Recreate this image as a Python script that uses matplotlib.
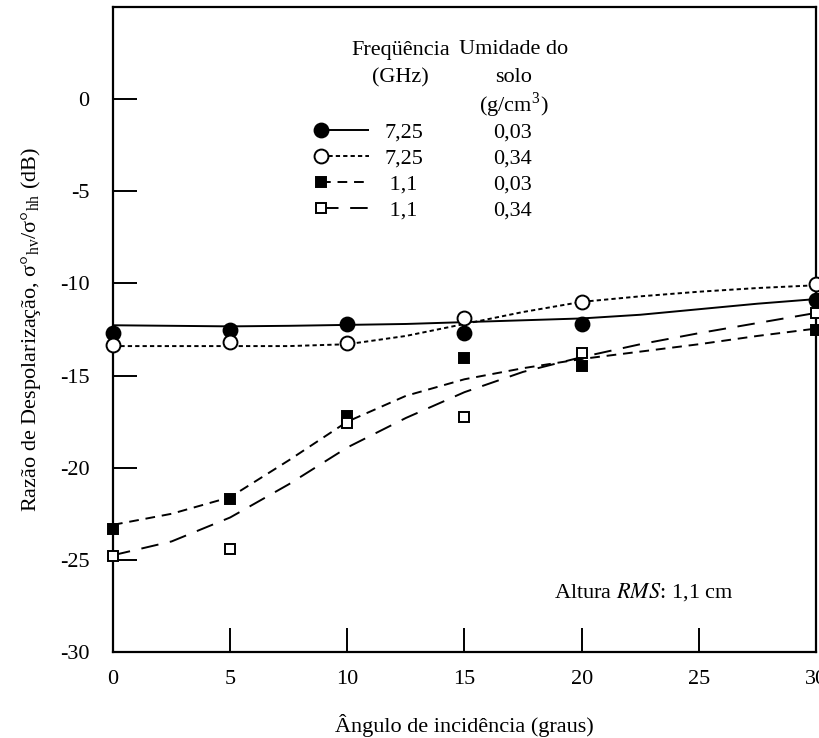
import numpy as np
import matplotlib
matplotlib.use("Agg")
import matplotlib.pyplot as plt
from matplotlib.legend_handler import HandlerLine2D

# ---------------- data ----------------
angles = [0, 5, 10, 15, 20, 30]
f725_s003 = [-12.7, -12.5, -12.2, -12.7, -12.2, -10.9]
f725_s034 = [-13.35, -13.2, -13.25, -11.9, -11.0, -10.05]
f11_s003 = [-23.3, -21.7, -17.2, -14.05, -14.5, -12.5]
f11_s034 = [-24.8, -24.4, -17.55, -17.25, -13.8, -11.6]

fit_x = [0, 2.5, 5, 7.5, 10, 12.5, 15, 17.5, 20, 22.5, 25, 27.5, 30]
fit_725_003 = [-12.27, -12.3, -12.33, -12.3, -12.25, -12.2, -12.1, -12.0, -11.9, -11.7, -11.4, -11.1, -10.85]
fit_725_034 = [-13.4, -13.4, -13.4, -13.4, -13.3, -12.85, -12.2, -11.55, -11.0, -10.7, -10.45, -10.25, -10.1]
fit_11_003 = [-23.1, -22.5, -21.6, -19.6, -17.5, -16.1, -15.2, -14.6, -14.1, -13.7, -13.3, -12.85, -12.45]
fit_11_034 = [-24.75, -24.0, -22.7, -20.9, -18.9, -17.3, -15.9, -14.8, -14.0, -13.3, -12.7, -12.15, -11.6]

freq_labels = ["7,25", "7,25", " 1,1", " 1,1"]
humid_labels = ["0,03", "0,34", "0,03", "0,34"]
xticks = [0, 5, 10, 15, 20, 25, 30]
yticks = [-30, -25, -20, -15, -10, -5, 0]

# ---------------- style ----------------
plt.rcParams['font.family'] = ['Liberation Serif', 'DejaVu Serif']
plt.rcParams['mathtext.fontset'] = 'stix'
plt.rcParams['axes.unicode_minus'] = False
FS = 16

fig = plt.figure(figsize=(8.2, 7.38), dpi=100)
L, R, T, B = 113, 816, 7, 652
W, H = 820, 738
ax = fig.add_axes([L / W, 1 - B / H, (R - L) / W, (B - T) / H])

series = [
    (angles, f725_s003, fit_725_003, dict(marker='o', mfc='black'), (0, ())),
    (angles, f725_s034, fit_725_034, dict(marker='o', mfc='white'), (0, (2.2, 1.6))),
    (angles, f11_s003, fit_11_003, dict(marker='s', mfc='black'), (0, (5, 3.5))),
    (angles, f11_s034, fit_11_034, dict(marker='s', mfc='white'), (0, (9, 6))),
]

handles = []
for xs, ys, fy_, mk, ls in series:
    ms = 10 if mk['marker'] == 'o' else 7.5
    ax.plot(fit_x, fy_, color='black', lw=1.4, linestyle=ls, zorder=2)
    ax.plot(xs, ys, linestyle='none', marker=mk['marker'], ms=ms, mfc=mk['mfc'],
            mec='black', mew=1.4, clip_on=False, zorder=3)
    h, = ax.plot([], [], color='black', lw=1.4, linestyle=ls, marker=mk['marker'],
                 ms=ms, mfc=mk['mfc'], mec='black', mew=1.4)
    handles.append(h)

ax.set_xlim(0, 30)
ax.set_ylim(-30, 5)
ax.set_xticks(xticks)
ax.set_yticks(yticks)
ax.set_xticklabels([str(v) for v in xticks])
ax.set_yticklabels([str(v) for v in yticks])
ax.tick_params(axis='both', direction='in', length=17, width=1.4, labelsize=FS, color='black')
ax.tick_params(axis='y', pad=17)
ax.tick_params(axis='x', pad=13)
for sp in ax.spines.values():
    sp.set_linewidth(1.6)

ax.set_xlabel("Ângulo de incidência (graus)", fontsize=FS, labelpad=18)
ax.set_ylabel(r"Razão de Despolarização, σ°$_{\mathregular{hv}}$/σ°$_{\mathregular{hh}}$ (dB)",
              fontsize=FS, labelpad=12)


class MarkerFirstHandler(HandlerLine2D):
    def create_artists(self, legend, orig_handle, xdescent, ydescent, width, height,
                       fontsize, trans):
        arts = super().create_artists(legend, orig_handle, xdescent, ydescent, width,
                                      height, fontsize, trans)
        for a in arts:
            a.set_markevery([0])
        return arts


def fx(px):
    return (px - L) / (R - L)


def fy(py):
    return (B - py) / (B - T)


leg = ax.legend(handles, freq_labels, loc='upper left', bbox_to_anchor=(fx(321), fy(122)),
                frameon=False, fontsize=FS, handlelength=2.15, handletextpad=0.7,
                labelspacing=0.25, borderpad=0, borderaxespad=0,
                handler_map={h: MarkerFirstHandler(numpoints=1) for h in handles})

# header texts
ax.text(fx(401), fy(50), "Freqüência", ha='center', va='center', fontsize=FS, transform=ax.transAxes)
ax.text(fx(514), fy(50), "Umidade do", ha='center', va='center', fontsize=FS, transform=ax.transAxes)
ax.text(fx(400), fy(78), "(GHz)", ha='center', va='center', fontsize=FS, transform=ax.transAxes)
ax.text(fx(514), fy(78), "solo", ha='center', va='center', fontsize=FS, transform=ax.transAxes)
ax.text(fx(514), fy(105), r"(g/cm$^{\mathregular{3}}$)", ha='center', va='center', fontsize=FS,
        transform=ax.transAxes)

# humidity column aligned to legend rows
fig.canvas.draw()
inv = ax.transAxes.inverted()
for t, lab in zip(leg.get_texts(), humid_labels):
    bb = t.get_window_extent()
    cy = (bb.y0 + bb.y1) / 2
    _, ay = inv.transform((0, cy))
    ax.text(fx(513), ay, lab, ha='center', va='center', fontsize=FS, transform=ax.transAxes)

ax.text(fx(734), fy(592), "Altura $\\it{RMS}$: 1,1 cm", ha='right', va='center', fontsize=FS,
        transform=ax.transAxes)

fig.savefig("out.png", dpi=100)
